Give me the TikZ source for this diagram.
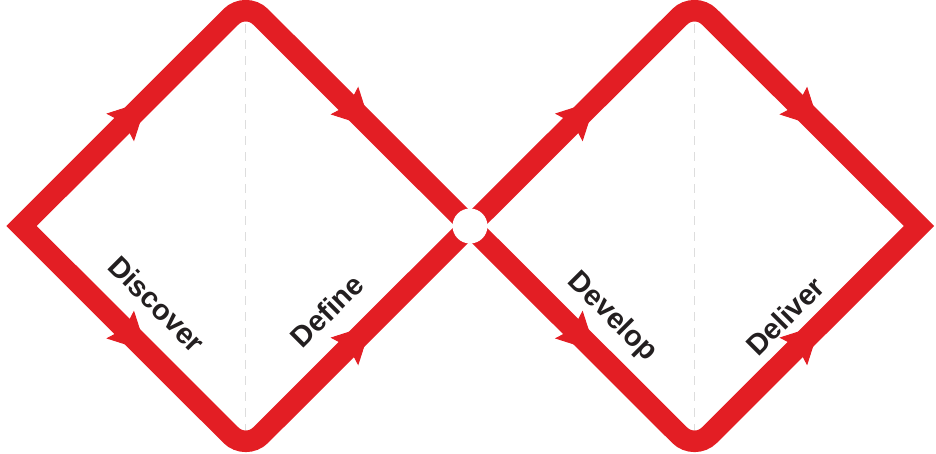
\documentclass[tikz,border=0pt]{standalone}
\usepackage{fontspec}
\setmainfont{Liberation Sans}
\usetikzlibrary{arrows.meta,decorations.markings}
\definecolor{ddred}{RGB}{227,30,36}
\definecolor{ddtext}{RGB}{35,31,32}
\definecolor{ddguide}{RGB}{221,221,221}
\begin{document}
\begin{tikzpicture}[x=1pt,y=-1pt,
  diamondline/.style={draw=ddred,line width=21.5pt,line join=miter},
  flow/.style={color=ddred,line width=1pt,postaction={decorate},
    decoration={markings,mark=at position 0.56 with {\arrow{Stealth[length=38pt,width=39pt,inset=6pt]}}}},
  guide/.style={draw=ddguide,line width=1pt,dash pattern=on 9pt off 7pt},
  lbl/.style={text=ddtext,font=\bfseries\fontsize{29}{29}\selectfont,inner sep=0pt},
  hubstyle/.style={circle,fill=white,minimum size=35pt,inner sep=0pt}]
\useasboundingbox (0,0) rectangle (936,453);
% vertices
\coordinate (L1) at (21.5,226);
\coordinate (T1) at (245.75,2);
\coordinate (B1) at (245.75,450);
\coordinate (C)  at (470,226);
\coordinate (T2) at (694.5,2);
\coordinate (B2) at (694.5,450);
\coordinate (R2) at (919,226);
% guides
\coordinate (g1a) at (245.75,24);
\coordinate (g1b) at (245.75,430);
\coordinate (g2a) at (694.5,24);
\coordinate (g2b) at (694.5,430);
\draw[guide] (g1a) -- (g1b);
\draw[guide] (g2a) -- (g2b);
% diamonds
\draw[diamondline] (L1) [rounded corners=21pt] -- (T1) [sharp corners] -- (C) [rounded corners=21pt] -- (B1) [sharp corners] -- cycle;
\draw[diamondline] (C) [rounded corners=21pt] -- (T2) [sharp corners] -- (R2) [rounded corners=21pt] -- (B2) [sharp corners] -- cycle;
% arrows
\path[flow] (L1) -- (T1);
\path[flow] (T1) -- (C);
\path[flow] (L1) -- (B1);
\path[flow] (B1) -- (C);
\path[flow] (C) -- (T2);
\path[flow] (T2) -- (R2);
\path[flow] (C) -- (B2);
\path[flow] (B2) -- (R2);
% hub
\node[hubstyle] (hub) at (C) {};
% labels
\node[lbl,rotate=-45] (discover) at (157,304) {Discover};
\node[lbl,rotate=45]  (define)   at (327,311) {Define};
\node[lbl,rotate=-45] (develop)  at (612,317) {Develop};
\node[lbl,rotate=45]  (deliver)  at (785,316) {Deliver};
\end{tikzpicture}
\end{document}
